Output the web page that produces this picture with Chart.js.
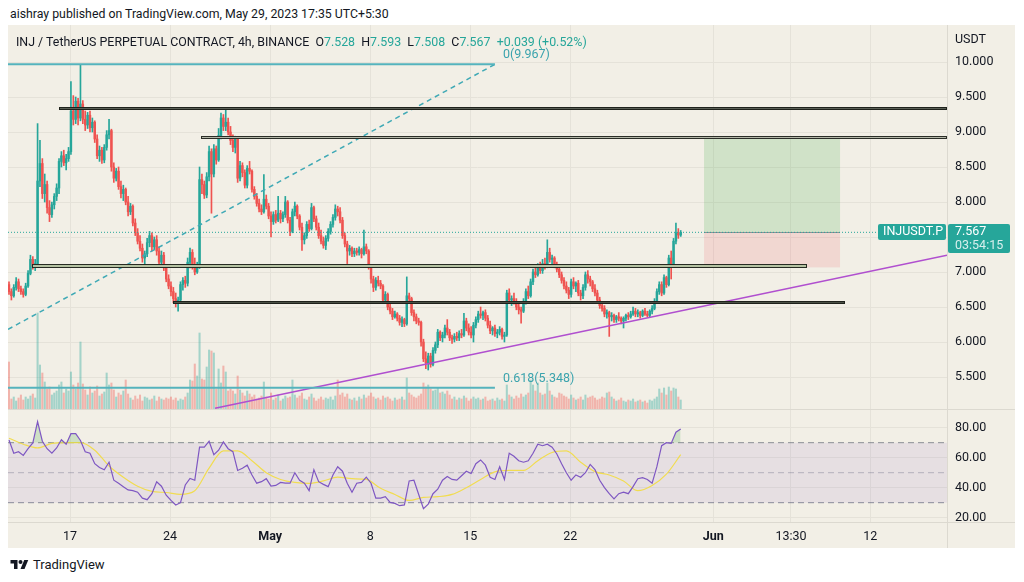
<!DOCTYPE html>
<html><head><meta charset="utf-8">
<script src="https://cdn.jsdelivr.net/npm/chart.js@4.4.0/dist/chart.umd.min.js"></script>
<style>
html,body{margin:0;padding:0;background:#fff;width:1024px;height:582px;overflow:hidden;font-family:Roboto,"Noto Sans",sans-serif;}
#hdr{position:absolute;left:10px;top:7px;font-size:12.3px;color:#131722;white-space:nowrap;}
#frame{position:absolute;left:8px;top:25px;width:1007px;height:523px;background:#f2efe6;}
#cPrice{position:absolute;left:8px;top:25px;width:1007px;height:384px;}
#cRsi{position:absolute;left:8px;top:410px;width:1007px;height:138px;}
.sep{position:absolute;background:#dcd9d0;}
#legend{position:absolute;left:16px;top:34px;font-size:12.4px;color:#131722;white-space:nowrap;}
#legend .v{color:#26a69a;}
#usdt{position:absolute;left:955px;top:31px;font-size:12.5px;color:#131722;}
#brand{position:absolute;left:10px;top:557px;display:flex;align-items:center;gap:4px;font-size:13px;color:#131722;}
</style></head>
<body>
<div id="hdr">aishray published on TradingView.com, May 29, 2023 17:35 UTC+5:30</div>
<div id="frame"></div>
<canvas id="cPrice" width="1007" height="384"></canvas>
<canvas id="cRsi" width="1007" height="138"></canvas>
<div class="sep" style="left:8px;top:409px;width:1007px;height:1px"></div>
<div class="sep" style="left:8px;top:522px;width:1007px;height:1px"></div>
<div class="sep" style="left:947px;top:25px;width:1px;height:523px"></div>
<div id="legend">INJ / TetherUS PERPETUAL CONTRACT, 4h, BINANCE&nbsp; O<span class="v">7.528</span>&nbsp; H<span class="v">7.593</span>&nbsp; L<span class="v">7.508</span>&nbsp; C<span class="v">7.567</span>&nbsp; <span class="v">+0.039 (+0.52%)</span></div>
<div id="usdt">USDT</div>
<div id="brand"><svg width="19" height="14" viewBox="0 0 36 28"><path d="M14 22H7V11H0V4h14v18z" fill="#131722"/><circle cx="20" cy="8" r="4" fill="#131722"/><path d="M28 22h-8l7.5-18h8L28 22z" fill="#131722"/></svg><span>TradingView</span></div>
<script>
// ---- candle data (4h, Apr 12 17:30 .. May 29 17:30) ----
const opens = [
6.82,6.72,6.66,6.78,6.86,6.76,6.72,6.68,6.80,6.98,
7.18,7.08,7.12,8.30,8.55,8.12,8.25,7.92,7.82,7.96,
8.08,8.20,8.58,8.66,8.56,8.62,8.72,9.30,9.18,9.44,
9.20,9.40,9.18,9.10,9.24,9.06,9.14,8.90,8.66,8.74,
8.60,8.78,8.96,9.02,8.50,8.34,8.44,8.22,8.12,8.18,
8.00,7.86,7.94,7.70,7.56,7.44,7.34,7.20,7.26,7.42,
7.52,7.36,7.46,7.30,7.14,7.24,7.06,6.90,6.80,6.72,
6.62,6.56,6.60,6.82,6.88,6.84,7.14,7.28,7.10,7.00,
7.08,8.32,8.25,8.10,8.36,8.72,8.40,8.76,8.60,8.95,
9.20,9.08,9.14,9.00,8.88,8.78,8.90,8.34,8.52,8.42,
8.24,8.48,8.44,8.18,8.08,7.98,7.90,7.86,8.04,7.94,
7.80,7.72,7.82,7.74,7.84,7.76,7.82,8.00,7.74,7.58,
7.86,7.94,7.80,7.64,7.46,7.52,7.68,7.62,7.92,7.76,
7.64,7.52,7.44,7.38,7.48,7.58,7.68,7.78,7.90,7.86,
7.74,7.52,7.40,7.30,7.34,7.26,7.30,7.28,7.32,7.26,
7.36,7.30,7.08,6.90,6.78,6.88,6.84,6.80,6.60,6.68,
6.50,6.44,6.36,6.40,6.34,6.28,6.32,6.26,6.66,6.62,
6.42,6.36,6.30,6.28,6.00,5.76,5.70,5.80,5.68,5.88,
5.96,6.14,6.06,6.10,6.20,6.14,6.06,6.04,6.08,6.06,
6.12,6.10,6.30,6.20,6.14,6.10,6.24,6.32,6.40,6.38,
6.42,6.34,6.24,6.16,6.20,6.12,6.14,6.18,6.08,6.10,
6.70,6.60,6.62,6.58,6.50,6.46,6.44,6.58,6.72,6.66,
6.86,7.00,6.96,7.08,7.02,7.12,7.08,7.28,7.18,7.20,
7.10,7.04,6.96,6.88,6.80,6.74,6.68,6.86,6.80,6.84,
6.70,6.66,6.78,6.96,6.90,6.86,6.76,6.70,6.60,6.52,
6.48,6.40,6.42,6.36,6.38,6.32,6.36,6.34,6.30,6.34,
6.38,6.36,6.40,6.44,6.40,6.42,6.38,6.44,6.40,6.38,
6.44,6.48,6.58,6.72,6.82,6.70,6.92,6.82,7.20,7.10,
7.44,7.56,7.528];
const highs = [
6.86,6.76,6.82,6.92,6.90,6.80,6.76,6.84,7.02,7.24,
7.22,7.18,9.12,8.88,8.62,8.40,8.30,8.02,8.00,8.12,
8.26,8.62,8.72,8.74,8.68,8.78,9.72,9.52,9.50,9.48,
9.967,9.45,9.30,9.28,9.30,9.20,9.16,8.96,8.80,8.78,
8.82,9.02,9.18,9.04,8.56,8.48,8.50,8.30,8.24,8.20,
8.08,7.98,7.96,7.76,7.62,7.52,7.40,7.30,7.48,7.58,
7.56,7.50,7.52,7.36,7.30,7.28,7.10,6.96,6.86,6.78,
6.70,6.64,6.86,6.92,6.94,7.20,7.34,7.32,7.20,7.14,
8.50,8.40,8.30,8.42,8.80,8.76,8.82,8.80,9.05,9.27,
9.25,9.32,9.20,9.08,8.96,8.94,8.92,8.58,8.56,8.46,
8.52,8.58,8.46,8.22,8.12,8.04,7.96,8.39,8.10,7.98,
7.86,7.86,7.88,8.08,7.88,7.86,8.08,8.02,7.78,7.90,
8.00,7.96,7.82,7.70,7.56,7.72,7.74,7.98,7.94,7.80,
7.70,7.60,7.50,7.52,7.62,7.72,7.82,7.96,7.94,7.92,
7.78,7.56,7.44,7.38,7.36,7.34,7.34,7.36,7.34,7.60,
7.40,7.32,7.10,6.94,6.92,6.94,6.88,6.82,6.72,6.70,
6.54,6.48,6.44,6.42,6.38,6.36,6.34,6.93,6.70,6.64,
6.46,6.40,6.34,6.30,6.04,5.86,5.84,5.84,5.92,6.00,
6.18,6.16,6.14,6.24,6.32,6.18,6.10,6.12,6.14,6.16,
6.18,6.41,6.34,6.26,6.22,6.28,6.36,6.44,6.50,6.44,
6.46,6.38,6.30,6.22,6.24,6.18,6.22,6.20,6.14,6.74,
6.76,6.66,6.70,6.62,6.56,6.50,6.62,6.76,6.80,6.90,
7.04,7.10,7.12,7.14,7.18,7.20,7.46,7.34,7.24,7.22,
7.14,7.08,7.00,6.92,6.86,6.78,6.90,6.92,6.86,6.88,
6.74,6.82,7.00,7.02,6.94,6.88,6.82,6.74,6.64,6.58,
6.52,6.46,6.44,6.42,6.40,6.38,6.42,6.36,6.36,6.40,
6.42,6.44,6.50,6.48,6.46,6.44,6.46,6.48,6.44,6.46,
6.52,6.62,6.76,6.86,6.86,6.96,6.94,7.24,7.30,7.48,
7.70,7.62,7.593];
const lows = [
6.68,6.60,6.64,6.74,6.72,6.68,6.64,6.66,6.78,6.96,
7.04,7.02,7.08,8.22,8.05,8.00,7.84,7.72,7.78,7.90,
8.02,8.12,8.50,8.52,8.46,8.58,8.68,9.10,9.12,9.10,
9.16,9.12,9.02,9.05,9.00,9.00,8.85,8.62,8.58,8.55,
8.56,8.74,8.90,8.44,8.28,8.30,8.18,8.06,8.02,7.96,
7.80,7.82,7.66,7.52,7.40,7.30,7.14,7.10,7.22,7.36,
7.30,7.32,7.24,7.10,7.08,7.02,6.86,6.76,6.66,6.56,
6.50,6.44,6.56,6.74,6.78,6.80,7.06,7.04,6.96,6.98,
7.05,8.12,8.05,8.06,8.30,7.84,8.36,8.54,8.58,8.90,
9.02,9.02,8.96,8.82,8.72,8.70,8.28,8.30,8.36,8.20,
8.20,8.40,8.14,8.04,7.94,7.86,7.82,7.84,7.90,7.76,
7.50,7.68,7.70,7.72,7.70,7.72,7.78,7.70,7.52,7.56,
7.80,7.76,7.60,7.31,7.40,7.48,7.58,7.60,7.72,7.60,
7.48,7.40,7.34,7.32,7.44,7.54,7.64,7.74,7.80,7.70,
7.48,7.36,7.12,7.24,7.22,7.22,7.24,7.24,7.20,7.24,
7.26,7.04,6.84,6.72,6.74,6.80,6.76,6.56,6.56,6.46,
6.40,6.32,6.34,6.30,6.24,6.22,6.22,6.24,6.56,6.38,
6.30,6.26,6.24,5.94,5.72,5.62,5.60,5.64,5.66,5.84,
5.92,6.02,6.00,6.06,6.10,6.02,5.98,6.00,6.02,6.02,
6.06,6.08,6.16,6.10,6.06,6.00,6.20,6.28,6.34,6.32,
6.30,6.20,6.12,6.10,6.08,6.06,6.10,6.04,6.00,6.08,
6.56,6.52,6.54,6.46,6.40,6.27,6.42,6.54,6.62,6.64,
6.82,6.92,6.94,6.98,6.98,7.04,7.06,7.14,7.08,7.06,
7.00,6.92,6.84,6.76,6.70,6.62,6.64,6.76,6.72,6.66,
6.60,6.62,6.74,6.84,6.80,6.72,6.66,6.56,6.48,6.44,
6.36,6.34,6.08,6.30,6.28,6.28,6.30,6.26,6.20,6.30,
6.32,6.34,6.38,6.36,6.36,6.34,6.36,6.38,6.36,6.36,
6.40,6.46,6.56,6.68,6.66,6.68,6.78,6.80,6.90,7.08,
7.40,7.48,7.508];
const closes = [
6.72,6.66,6.78,6.86,6.76,6.72,6.68,6.80,6.98,7.18,
7.08,7.12,8.30,8.55,8.12,8.25,7.92,7.82,7.96,8.08,
8.20,8.58,8.66,8.56,8.62,8.72,9.30,9.18,9.44,9.20,
9.40,9.18,9.10,9.24,9.06,9.14,8.90,8.66,8.74,8.60,
8.78,8.96,9.02,8.50,8.34,8.44,8.22,8.12,8.18,8.00,
7.86,7.94,7.70,7.56,7.44,7.34,7.20,7.26,7.42,7.52,
7.36,7.46,7.30,7.14,7.24,7.06,6.90,6.80,6.72,6.62,
6.56,6.60,6.82,6.88,6.84,7.14,7.28,7.10,7.00,7.08,
8.32,8.25,8.10,8.36,8.72,8.40,8.76,8.60,8.95,9.20,
9.08,9.14,9.00,8.88,8.78,8.90,8.34,8.52,8.42,8.24,
8.48,8.44,8.18,8.08,7.98,7.90,7.86,8.04,7.94,7.80,
7.72,7.82,7.74,7.84,7.76,7.82,8.00,7.74,7.58,7.86,
7.94,7.80,7.64,7.46,7.52,7.68,7.62,7.92,7.76,7.64,
7.52,7.44,7.38,7.48,7.58,7.68,7.78,7.90,7.86,7.74,
7.52,7.40,7.30,7.34,7.26,7.30,7.28,7.32,7.26,7.36,
7.30,7.08,6.90,6.78,6.88,6.84,6.80,6.60,6.68,6.50,
6.44,6.36,6.40,6.34,6.28,6.32,6.26,6.66,6.62,6.42,
6.36,6.30,6.28,6.00,5.76,5.70,5.80,5.68,5.88,5.96,
6.14,6.06,6.10,6.20,6.14,6.06,6.04,6.08,6.06,6.12,
6.10,6.30,6.20,6.14,6.10,6.24,6.32,6.40,6.38,6.42,
6.34,6.24,6.16,6.20,6.12,6.14,6.18,6.08,6.10,6.70,
6.60,6.62,6.58,6.50,6.46,6.44,6.58,6.72,6.66,6.86,
7.00,6.96,7.08,7.02,7.12,7.08,7.28,7.18,7.20,7.10,
7.04,6.96,6.88,6.80,6.74,6.68,6.86,6.80,6.84,6.70,
6.66,6.78,6.96,6.90,6.86,6.76,6.70,6.60,6.52,6.48,
6.40,6.42,6.36,6.38,6.32,6.36,6.34,6.30,6.34,6.38,
6.36,6.40,6.44,6.40,6.42,6.38,6.44,6.40,6.38,6.44,
6.48,6.58,6.72,6.82,6.70,6.92,6.82,7.20,7.10,7.44,
7.56,7.528,7.567];
const volumes = [
4.7,1.0,1.2,0.8,1.1,1.4,0.9,1.2,1.0,1.3,
1.5,1.1,9.6,4.4,3.6,2.7,2.0,2.2,1.4,1.6,
1.8,2.4,2.7,1.6,2.0,1.8,3.7,2.4,2.0,2.6,
6.7,2.5,1.9,1.4,2.2,1.6,1.8,2.3,1.3,1.5,
1.7,3.6,2.4,2.6,1.9,1.2,1.6,1.4,1.8,2.9,
1.5,1.1,0.9,1.3,1.0,1.4,0.8,1.2,1.1,0.9,
1.0,1.3,0.8,1.2,1.0,0.9,1.1,1.0,1.2,0.9,
1.1,0.8,1.0,0.9,1.2,1.6,2.9,2.8,4.5,3.3,
7.6,3.0,2.9,4.2,5.9,5.8,5.6,2.0,4.0,2.6,
4.3,3.7,1.8,2.0,1.8,1.5,3.3,1.9,1.6,1.3,
1.8,1.5,1.2,1.4,1.0,1.1,1.3,2.7,1.2,1.0,
1.6,0.9,1.1,1.4,0.8,1.0,1.3,1.1,1.2,2.9,
1.4,1.1,1.3,1.6,1.0,0.9,1.2,1.5,1.1,0.8,
1.0,1.2,0.9,1.1,1.0,1.2,0.9,1.3,2.9,1.4,
1.6,1.2,1.5,1.0,0.9,1.1,0.8,1.2,1.0,1.4,
1.1,1.3,1.6,1.2,1.0,1.1,0.9,1.3,1.1,1.2,
1.0,0.8,1.1,0.9,1.0,1.2,0.9,3.1,1.6,1.4,
1.2,1.1,1.3,1.5,2.6,2.2,2.4,2.0,1.8,1.9,
2.1,1.6,1.7,1.5,1.8,1.4,1.0,1.2,0.9,1.1,
1.0,1.3,1.1,0.8,1.0,1.2,1.0,1.1,0.9,1.0,
1.2,0.8,0.9,1.0,0.8,1.1,0.9,1.0,0.8,2.4,
1.4,1.2,1.0,1.3,1.1,1.5,1.2,1.4,1.6,2.9,
2.4,1.8,2.6,1.6,1.4,1.5,2.6,1.8,1.4,1.2,
1.1,1.6,1.5,1.3,1.2,1.0,1.4,1.1,0.9,1.0,
1.2,0.9,1.4,1.1,1.2,1.3,1.1,0.9,1.0,1.2,
1.1,1.6,1.7,1.2,1.0,0.8,0.9,1.1,0.8,0.7,
0.9,0.8,1.0,0.7,0.8,0.9,0.7,0.8,0.6,0.9,
0.8,1.0,1.2,2.0,1.6,2.1,1.4,2.2,1.8,2.1,
2.0,1.2,0.9];
// RSI(14), one value every 2 candles
const rsiValues = [
71.8,63,64,61.5,66,69.8,84,71,66,63,
66.5,72,69,76,76,71.5,64,63,56,53.5,
52,57,45,43,40.7,38.5,38,37,33,32,
36,44,41,35,31.5,28.5,30,41.8,46.2,45,
67,67,71,62,65,70.5,66,64,51.5,53,
55,48.5,43,44,46,41,41.5,43.5,43,43,
50,45,43,38,52,44,42.2,40.7,48.5,54,
51,43,37,43,43.5,47,43,33,33,34,
30.2,29.5,28,28.5,44.5,45,35.5,26,29,36,
39,45,47.5,45.5,45,48,51,49.5,56,58.5,
55,47,45.5,54,45.5,63,61,58,57,58,
63,69,68,69,67,62.5,56,50,45,48.5,
47,50,55.5,52,45,40,36,32.5,36,37,
36,40.7,46,46.7,45.5,43,54,68,70,69.5,
77,79.1];
const rsiStep = 2;
// RSI-based MA, one value every 6 candles
const rsiMaValues = [
73,69,66.5,69.5,70,70,65,54.5,47,41,
37.5,36.8,35.6,38,53,64.5,64.5,58,50,45.5,
43.5,42.9,44.5,47,46,45.5,39.6,35.5,31.5,33.5,
34,35.5,40,45.5,50.5,51.5,51.5,58,63.5,64.5,
57,50.7,48.5,44.5,38,41.5,49,62];
const maStep = 6;
// time axis (candle index units)
const dateTickIndex = [25.63,67.63,109.63,151.63,193.63,235.63,295.63,328.3,361.63];
const dateTickLabels = ['17','24','May','8','15','22','Jun','13:30','12'];
const priceTicks = [5.5,6,6.5,7,7.5,8,8.5,9,9.5,10];
const rsiTicks = [20,40,60,80];
const rsiLevels = [70,50,30];
// drawings
const fibLevels = [9.967,5.348];
const fibLabels = ['0(9.967)','0.618(5.348)'];
const fibEnd = 204;
const fibDiagStart = 6.18;
const trendFrom = [86.5,5.055];
const trendTo = [393.8,7.24];
const zoneFrom = [21,80.6,9.5,68.7];
const zoneTo = [393.8,393.8,334.9,351];
const zoneTop = [9.362,8.945,7.116,6.592];
const zoneBottom = [9.318,8.903,7.060,6.552];
const posFrom = 291.8, posTo = 348.9, posTarget = 8.93, posEntry = 7.567, posStop = 7.066;
const priceLineEnd = 364.8;

const X_MIN = -0.42, X_MAX = 393.8;
const TEAL = '#26a69a', RED = '#ef5350';
const GRID = '#e5e2d9';
const zoneFill = ['#5a5f55','#b4b7a8','#b5c2a2','#4a5045'];
const zoneStroke = ['#1f221c','#2a2d27','#262b22','#1f221c'];

Chart.defaults.font.family = 'Roboto, "Noto Sans", sans-serif';
Chart.defaults.font.size = 12.5;
Chart.defaults.color = '#131722';

const lastClose = closes[closes.length - 1];
const idx = closes.map((_, i) => i);
const candleColor = closes.map((c, i) => c >= opens[i] ? TEAL : RED);
const volColor = closes.map((c, i) => c >= opens[i] ? 'rgba(38,166,154,0.38)' : 'rgba(239,83,80,0.38)');

const drawPlugin = {
  id: 'drawings',
  beforeDatasetsDraw(chart) {
    const {ctx, chartArea: a, scales: {x, y}} = chart;
    ctx.save();
    ctx.beginPath(); ctx.rect(a.left, a.top, a.width, a.height); ctx.clip();
    const x0 = x.getPixelForValue(posFrom), x1 = x.getPixelForValue(posTo);
    const yT = y.getPixelForValue(posTarget), yE = y.getPixelForValue(posEntry), yS = y.getPixelForValue(posStop);
    ctx.fillStyle = 'rgba(76,175,80,0.2)'; ctx.fillRect(x0, yT, x1 - x0, yE - yT);
    ctx.fillStyle = 'rgba(242,54,69,0.13)'; ctx.fillRect(x0, yE, x1 - x0, yS - yE);
    ctx.strokeStyle = 'rgba(120,123,134,0.8)'; ctx.lineWidth = 1;
    ctx.beginPath(); ctx.moveTo(x0, Math.round(yE) + 0.5); ctx.lineTo(x1, Math.round(yE) + 0.5); ctx.stroke();
    ctx.restore();
  },
  afterDatasetsDraw(chart) {
    const {ctx, chartArea: a, scales: {x, y}} = chart;
    ctx.save();
    ctx.beginPath(); ctx.rect(a.left, a.top, a.width, a.height); ctx.clip();
    for (let k = 0; k < zoneFrom.length; k++) {
      const x0 = Math.round(x.getPixelForValue(zoneFrom[k])), x1 = Math.round(x.getPixelForValue(zoneTo[k]));
      const y0 = Math.round(y.getPixelForValue(zoneTop[k]));
      const h = Math.max(3, Math.round(y.getPixelForValue(zoneBottom[k]) - y.getPixelForValue(zoneTop[k])));
      ctx.fillStyle = zoneStroke[k];
      ctx.fillRect(x0, y0, x1 - x0, h);
      ctx.fillStyle = zoneFill[k];
      ctx.fillRect(x0 + 1, y0 + 1, x1 - x0 - 2, h - 2);
    }
    ctx.font = '12.5px Roboto, "Noto Sans", sans-serif';
    ctx.fillStyle = '#3aa3ad'; ctx.textAlign = 'left'; ctx.textBaseline = 'middle';
    for (let k = 0; k < fibLevels.length; k++) {
      ctx.fillText(fibLabels[k], x.getPixelForValue(fibEnd) + 8, y.getPixelForValue(fibLevels[k]) - 9);
    }
    ctx.restore();
  },
  afterDraw(chart) {
    const {ctx, chartArea: a, scales: {y}} = chart;
    const yy = Math.round(y.getPixelForValue(lastClose));
    const r = a.right;
    ctx.save();
    ctx.fillStyle = TEAL;
    ctx.beginPath(); ctx.roundRect(r - 69, yy - 8, 68, 16, 2); ctx.fill();
    ctx.beginPath(); ctx.roundRect(r + 1, yy - 8, 62, 29, 2); ctx.fill();
    ctx.font = '12.5px Roboto, "Noto Sans", sans-serif';
    ctx.textAlign = 'left'; ctx.textBaseline = 'middle';
    ctx.fillStyle = '#ffffff';
    ctx.fillText('INJUSDT.P', r - 64, yy);
    ctx.fillText(lastClose.toFixed(3), r + 8, yy);
    ctx.fillStyle = 'rgba(255,255,255,0.82)';
    ctx.fillText('03:54:15', r + 8, yy + 14);
    ctx.restore();
  }
};

const lineDs = (pts, color, width, dash, order) => ({
  type: 'line', data: pts, borderColor: color, borderWidth: width, borderDash: dash || [],
  pointRadius: 0, pointBorderWidth: 0, fill: false, tension: 0, order: order
});
const noPadV = s => { s.width = 68; s.paddingTop = 0; s.paddingBottom = 0; };

new Chart(document.getElementById('cPrice'), {
  type: 'bar',
  data: {
    datasets: [
      lineDs([{x: X_MIN, y: lastClose}, {x: priceLineEnd, y: lastClose}], TEAL, 1, [1, 2], 0),
      lineDs([{x: X_MIN, y: fibLevels[0]}, {x: fibEnd, y: fibLevels[0]}], '#55b3bd', 2, null, 1),
      lineDs([{x: X_MIN, y: fibLevels[1]}, {x: fibEnd, y: fibLevels[1]}], '#55b3bd', 2, null, 1),
      lineDs([{x: X_MIN, y: fibDiagStart}, {x: fibEnd, y: fibLevels[0]}], '#3fa9b5', 1.5, [5, 4], 1),
      lineDs([{x: trendFrom[0], y: trendFrom[1]}, {x: trendTo[0], y: trendTo[1]}], '#b04fcf', 1.5, null, 1),
      {type: 'bar', data: idx.map(i => ({x: i, y: [opens[i], closes[i]]})), backgroundColor: candleColor,
       barThickness: 1.8, grouped: false, minBarLength: 1, borderWidth: 0, order: 5},
      {type: 'bar', data: idx.map(i => ({x: i, y: [lows[i], highs[i]]})), backgroundColor: candleColor,
       barThickness: 1, grouped: false, borderWidth: 0, order: 6},
      {type: 'bar', yAxisID: 'yv', data: idx.map(i => ({x: i, y: volumes[i]})), backgroundColor: volColor,
       barThickness: 1.4, grouped: false, borderWidth: 0, order: 7}
    ]
  },
  options: {
    responsive: false, animation: false, events: [],
    layout: {padding: 0, autoPadding: false},
    plugins: {legend: {display: false}, tooltip: {enabled: false}},
    scales: {
      x: {type: 'linear', min: X_MIN, max: X_MAX, offset: false,
          afterBuildTicks: s => { s.ticks = dateTickIndex.map(v => ({value: v})); },
          ticks: {display: false}, grid: {color: GRID, drawTicks: false, offset: false},
          border: {display: false},
          afterFit: s => { s.height = 0; s.paddingLeft = 0; s.paddingRight = 0; }},
      y: {type: 'linear', position: 'right', min: 5.0429, max: 10.5286,
          afterBuildTicks: s => { s.ticks = priceTicks.map(v => ({value: v})); },
          ticks: {padding: 8, color: '#131722', callback: v => Number(v).toFixed(3)},
          grid: {color: GRID, drawTicks: false}, border: {display: false},
          afterFit: noPadV},
      yv: {type: 'linear', display: false, min: 0, max: 38.4}
    }
  },
  plugins: [drawPlugin]
});

const levelDs = (v, color, order, extra) => Object.assign({
  data: [{x: X_MIN, y: v}, {x: X_MAX, y: v}], borderColor: color, borderWidth: 1,
  borderDash: [6, 4], pointRadius: 0, pointBorderWidth: 0, fill: false, order: order
}, extra || {});

new Chart(document.getElementById('cRsi'), {
  type: 'line',
  data: {
    datasets: [
      {data: rsiValues.map((v, k) => ({x: k * rsiStep, y: v})), borderColor: '#7e57c2', borderWidth: 1.2,
       pointRadius: 0, pointBorderWidth: 0, tension: 0, order: 0,
       fill: {target: {value: rsiLevels[0]}, above: 'rgba(76,175,80,0.22)', below: 'rgba(0,0,0,0)'}},
      {data: rsiMaValues.map((v, k) => ({x: k * maStep, y: v})), borderColor: '#f1dc50', borderWidth: 1.2,
       pointRadius: 0, pointBorderWidth: 0, cubicInterpolationMode: 'monotone', fill: false, order: 1},
      levelDs(rsiLevels[0], 'rgba(120,123,134,0.85)', 2, {fill: 4, backgroundColor: 'rgba(126,87,194,0.1)'}),
      levelDs(rsiLevels[1], 'rgba(120,123,134,0.45)', 3),
      levelDs(rsiLevels[2], 'rgba(120,123,134,0.85)', 4)
    ]
  },
  options: {
    responsive: false, animation: false, events: [],
    layout: {padding: 0, autoPadding: false},
    plugins: {legend: {display: false}, tooltip: {enabled: false}},
    scales: {
      x: {type: 'linear', min: X_MIN, max: X_MAX, offset: false,
          afterBuildTicks: s => { s.ticks = dateTickIndex.map(v => ({value: v})); },
          ticks: {padding: 7, autoSkip: false, maxRotation: 0, color: '#131722',
                  callback: (v, i) => dateTickLabels[i],
                  font: ctx => ({size: 12.5, weight: (dateTickLabels[ctx.index] === 'May' || dateTickLabels[ctx.index] === 'Jun') ? 'bold' : 'normal'})},
          grid: {color: GRID, drawTicks: false}, border: {display: false},
          afterFit: s => { s.height = 26; s.paddingLeft = 0; s.paddingRight = 0; }},
      y: {type: 'linear', position: 'right', min: 17.13, max: 91.8,
          afterBuildTicks: s => { s.ticks = rsiTicks.map(v => ({value: v})); },
          ticks: {padding: 8, color: '#131722', callback: v => Number(v).toFixed(2)},
          grid: {color: GRID, drawTicks: false}, border: {display: false},
          afterFit: noPadV}
    }
  }
});
</script>
</body></html>
